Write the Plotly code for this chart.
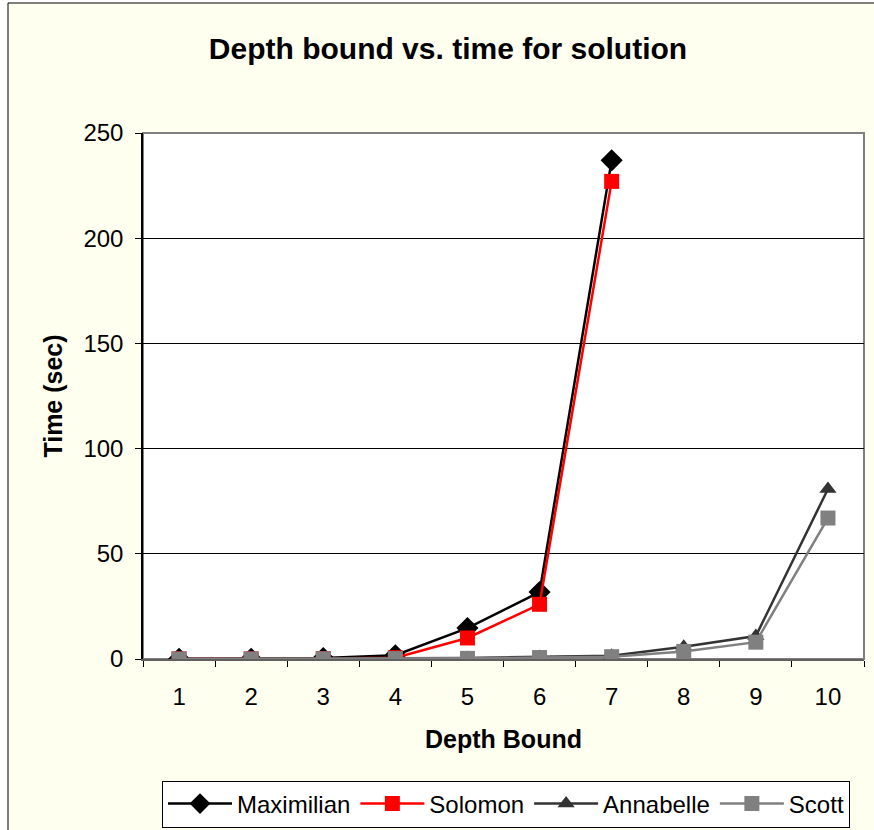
import plotly.graph_objects as go

depth = ["1", "2", "3", "4", "5", "6", "7", "8", "9", "10"]
maximilian = [0.1, 0.1, 0.5, 1.8, 14.7, 31.8, 237]
solomon = [0.05, 0.05, 0.2, 0.6, 10, 26, 227]
annabelle = [0.05, 0.05, 0.1, 0.3, 0.5, 1.0, 1.6, 5.8, 10.9, 80.8]
scott = [0.0, 0.0, 0.1, 0.2, 0.3, 0.7, 1.1, 3.6, 8.0, 67]

series = [
    ("Maximilian", maximilian, "#000000", "diamond", 17),
    ("Solomon", solomon, "#FF0000", "square", 15),
    ("Annabelle", annabelle, "#333333", "triangle-up", 15),
    ("Scott", scott, "#808080", "square", 15),
]

fig = go.Figure()
for name, vals, color, sym, size in series:
    fig.add_trace(go.Scatter(
        x=depth[:len(vals)], y=vals, name=name, mode="lines+markers",
        line=dict(color=color, width=2.5),
        marker=dict(symbol=sym, size=size, color=color, line=dict(width=0)),
    ))

fig.update_layout(
    width=874, height=830,
    paper_bgcolor="white",
    plot_bgcolor="white",
    margin=dict(l=143, r=10, t=133, b=171, autoexpand=False),
    font=dict(family="Liberation Sans, Arial, sans-serif", size=24, color="black"),
    title=dict(text="<b>Depth bound vs. time for solution</b>", x=448 / 874, xanchor="center",
               y=1 - 48 / 830, yanchor="middle", font=dict(size=30)),
    showlegend=True,
    legend=dict(orientation="h", xref="container", yref="container",
                x=506 / 874, xanchor="center", y=1 - 804 / 830, yanchor="middle",
                bordercolor="black", borderwidth=1, bgcolor="white",
                font=dict(size=24), itemwidth=64, tracegroupgap=0),
    shapes=[
        dict(type="rect", xref="paper", yref="paper", x0=-135 / 721, x1=1.03,
             y0=-0.34, y1=(659 - 3) / 526,
             fillcolor="#FFFFF0", line=dict(color="black", width=1), layer="below"),
        dict(type="rect", xref="x domain", yref="y domain", x0=0, x1=1, y0=0, y1=1,
             fillcolor="white", line=dict(color="#808080", width=2), layer="below"),
    ],
)

fig.update_xaxes(
    type="category", categoryorder="array", categoryarray=depth,
    tickson="boundaries", ticks="outside", ticklen=6, tickcolor="black",
    ticklabelstandoff=15, automargin=False,
    showline=True, linecolor="#606060", linewidth=2, showgrid=False,
    range=[-0.5, 9.5], tickfont=dict(size=24),
    title=dict(text="<b>Depth Bound</b>", standoff=22, font=dict(size=25)),
)
fig.update_yaxes(
    range=[0, 250], tickvals=[0, 50, 100, 150, 200, 250],
    ticks="outside", ticklen=6, tickcolor="black",
    ticklabelstandoff=7, tickfont=dict(size=24), automargin=False,
    showline=True, linecolor="black", linewidth=1.5,
    showgrid=True, gridcolor="black", gridwidth=1, zeroline=False,
    title=dict(text="<b>Time (sec)</b>", standoff=14, font=dict(size=25)),
)

fig.write_html("out.html", config={"displayModeBar": False},
               post_script="document.body.style.margin='0';")
